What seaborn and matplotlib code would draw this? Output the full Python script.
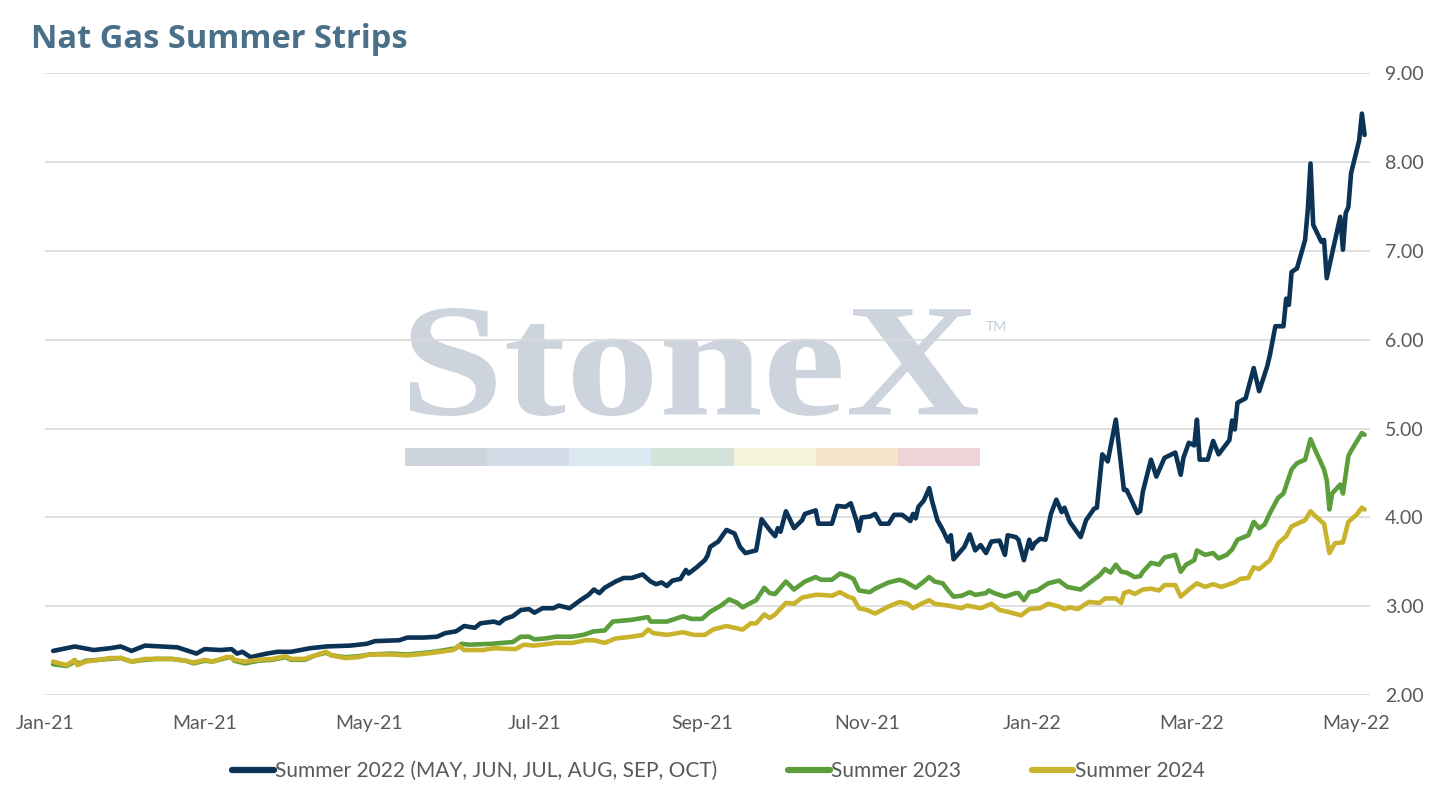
"""Nat Gas Summer Strips: three summer strip prices, Jan-21 to May-22."""

import matplotlib
matplotlib.use("Agg")
import matplotlib.pyplot as plt
import matplotlib.dates as mdates
from matplotlib.textpath import TextPath
from matplotlib.patches import PathPatch, Rectangle
from matplotlib.font_manager import FontProperties
from matplotlib.transforms import Affine2D
import pandas as pd
import seaborn as sns

W, H = 1437, 792

TITLE = "Nat Gas Summer Strips"
SERIES = ["Summer 2022 (MAY, JUN, JUL, AUG, SEP, OCT)", "Summer 2023", "Summer 2024"]
COLORS = ["#0B3356", "#5B9E3B", "#C9B32D"]
Y_TICKS = [2, 3, 4, 5, 6, 7, 8, 9]
X_TICKS = ["2021-01-01", "2021-03-01", "2021-05-01", "2021-07-01", "2021-09-01",
           "2021-11-01", "2022-01-01", "2022-03-01", "2022-05-01"]

S22_DATES = [
    "2021-01-04", "2021-01-12", "2021-01-19", "2021-01-25", "2021-01-29", "2021-02-02",
    "2021-02-07", "2021-02-13", "2021-02-19", "2021-02-26", "2021-03-01", "2021-03-07",
    "2021-03-11", "2021-03-13", "2021-03-15", "2021-03-18", "2021-03-24", "2021-03-28",
    "2021-04-02", "2021-04-09", "2021-04-15", "2021-04-24", "2021-04-30", "2021-05-03",
    "2021-05-12", "2021-05-15", "2021-05-21", "2021-05-26", "2021-05-29", "2021-06-02",
    "2021-06-05", "2021-06-09", "2021-06-11", "2021-06-16", "2021-06-18", "2021-06-20",
    "2021-06-23", "2021-06-26", "2021-06-29", "2021-07-01", "2021-07-04", "2021-07-08",
    "2021-07-10", "2021-07-14", "2021-07-18", "2021-07-21", "2021-07-23", "2021-07-25",
    "2021-07-27", "2021-07-31", "2021-08-03", "2021-08-06", "2021-08-10", "2021-08-13",
    "2021-08-15", "2021-08-17", "2021-08-19", "2021-08-21", "2021-08-24", "2021-08-26",
    "2021-08-27", "2021-08-30", "2021-09-02", "2021-09-03", "2021-09-04", "2021-09-07",
    "2021-09-10", "2021-09-13", "2021-09-15", "2021-09-17", "2021-09-21", "2021-09-23",
    "2021-09-26", "2021-09-28", "2021-09-29", "2021-09-30", "2021-10-02", "2021-10-05",
    "2021-10-08", "2021-10-09", "2021-10-13", "2021-10-14", "2021-10-19", "2021-10-21",
    "2021-10-24", "2021-10-26", "2021-10-28", "2021-10-29", "2021-10-30", "2021-11-02",
    "2021-11-04", "2021-11-06", "2021-11-09", "2021-11-11", "2021-11-14", "2021-11-17",
    "2021-11-18", "2021-11-19", "2021-11-20", "2021-11-22", "2021-11-24", "2021-11-25",
    "2021-11-27", "2021-11-29", "2021-12-01", "2021-12-02", "2021-12-03", "2021-12-05",
    "2021-12-07", "2021-12-09", "2021-12-11", "2021-12-13", "2021-12-15", "2021-12-17",
    "2021-12-20", "2021-12-22", "2021-12-23", "2021-12-26", "2021-12-27", "2021-12-29",
    "2021-12-31", "2022-01-01", "2022-01-02", "2022-01-04", "2022-01-06", "2022-01-08",
    "2022-01-10", "2022-01-12", "2022-01-13", "2022-01-15", "2022-01-19", "2022-01-21",
    "2022-01-24", "2022-01-25", "2022-01-27", "2022-01-29", "2022-02-01", "2022-02-04",
    "2022-02-05", "2022-02-09", "2022-02-10", "2022-02-11", "2022-02-14", "2022-02-16",
    "2022-02-19", "2022-02-23", "2022-02-25", "2022-02-26", "2022-02-28", "2022-03-02",
    "2022-03-03", "2022-03-04", "2022-03-07", "2022-03-09", "2022-03-11", "2022-03-15",
    "2022-03-16", "2022-03-17", "2022-03-18", "2022-03-21", "2022-03-24", "2022-03-26",
    "2022-03-29", "2022-03-30", "2022-04-01", "2022-04-04", "2022-04-05", "2022-04-06",
    "2022-04-07", "2022-04-09", "2022-04-12", "2022-04-13", "2022-04-14", "2022-04-15",
    "2022-04-18", "2022-04-19", "2022-04-20", "2022-04-22", "2022-04-25", "2022-04-26",
    "2022-04-27", "2022-04-28", "2022-04-29", "2022-05-02", "2022-05-03", "2022-05-04",
]
S22_VALUES = [
    2.50, 2.55, 2.51, 2.53, 2.55, 2.50, 2.56, 2.55, 2.54, 2.47, 2.52, 2.51,
    2.52, 2.47, 2.49, 2.43, 2.47, 2.49, 2.49, 2.53, 2.55, 2.56, 2.58, 2.61,
    2.62, 2.65, 2.65, 2.66, 2.70, 2.72, 2.78, 2.76, 2.81, 2.83, 2.81, 2.86,
    2.89, 2.96, 2.97, 2.93, 2.98, 2.98, 3.01, 2.98, 3.07, 3.13, 3.19, 3.15,
    3.21, 3.28, 3.32, 3.32, 3.36, 3.28, 3.25, 3.27, 3.23, 3.29, 3.31, 3.41,
    3.37, 3.44, 3.52, 3.57, 3.67, 3.73, 3.86, 3.82, 3.67, 3.60, 3.63, 3.98,
    3.86, 3.79, 3.88, 3.84, 4.07, 3.88, 3.97, 4.04, 4.08, 3.93, 3.93, 4.13,
    4.12, 4.16, 3.97, 3.85, 4.00, 4.01, 4.04, 3.93, 3.93, 4.03, 4.03, 3.96,
    4.04, 3.99, 4.12, 4.19, 4.33, 4.19, 3.97, 3.86, 3.73, 3.80, 3.53, 3.60,
    3.67, 3.81, 3.63, 3.69, 3.60, 3.73, 3.74, 3.58, 3.80, 3.78, 3.75, 3.52,
    3.75, 3.65, 3.71, 3.76, 3.75, 4.04, 4.20, 4.06, 4.11, 3.95, 3.78, 3.97,
    4.10, 4.11, 4.71, 4.63, 5.10, 4.31, 4.31, 4.05, 4.07, 4.29, 4.65, 4.46,
    4.67, 4.73, 4.48, 4.67, 4.84, 4.81, 5.10, 4.65, 4.65, 4.86, 4.71, 4.87,
    5.09, 4.99, 5.29, 5.34, 5.68, 5.42, 5.70, 5.83, 6.15, 6.15, 6.46, 6.39,
    6.76, 6.80, 7.12, 7.46, 7.98, 7.29, 7.10, 7.12, 6.69, 6.97, 7.38, 7.01,
    7.42, 7.49, 7.87, 8.24, 8.54, 8.30,
]

S23_DATES = [
    "2021-01-04", "2021-01-09", "2021-01-12", "2021-01-14", "2021-01-16", "2021-01-21",
    "2021-01-25", "2021-01-29", "2021-02-02", "2021-02-07", "2021-02-11", "2021-02-17",
    "2021-02-22", "2021-02-25", "2021-03-01", "2021-03-04", "2021-03-09", "2021-03-11",
    "2021-03-12", "2021-03-16", "2021-03-21", "2021-03-26", "2021-03-31", "2021-04-02",
    "2021-04-07", "2021-04-11", "2021-04-15", "2021-04-17", "2021-04-22", "2021-04-27",
    "2021-05-01", "2021-05-09", "2021-05-15", "2021-05-25", "2021-06-02", "2021-06-04",
    "2021-06-07", "2021-06-15", "2021-06-19", "2021-06-23", "2021-06-26", "2021-06-29",
    "2021-07-01", "2021-07-05", "2021-07-09", "2021-07-15", "2021-07-19", "2021-07-23",
    "2021-07-27", "2021-07-30", "2021-08-06", "2021-08-12", "2021-08-13", "2021-08-19",
    "2021-08-25", "2021-08-28", "2021-09-01", "2021-09-04", "2021-09-08", "2021-09-11",
    "2021-09-14", "2021-09-16", "2021-09-19", "2021-09-21", "2021-09-24", "2021-09-26",
    "2021-09-28", "2021-09-30", "2021-10-02", "2021-10-05", "2021-10-09", "2021-10-13",
    "2021-10-15", "2021-10-19", "2021-10-22", "2021-10-25", "2021-10-27", "2021-10-29",
    "2021-11-02", "2021-11-04", "2021-11-09", "2021-11-13", "2021-11-15", "2021-11-19",
    "2021-11-22", "2021-11-24", "2021-11-26", "2021-11-29", "2021-12-01", "2021-12-03",
    "2021-12-06", "2021-12-09", "2021-12-11", "2021-12-15", "2021-12-16", "2021-12-18",
    "2021-12-22", "2021-12-26", "2021-12-27", "2021-12-29", "2021-12-31", "2022-01-03",
    "2022-01-07", "2022-01-11", "2022-01-14", "2022-01-19", "2022-01-26", "2022-01-28",
    "2022-01-30", "2022-02-01", "2022-02-03", "2022-02-05", "2022-02-08", "2022-02-10",
    "2022-02-11", "2022-02-14", "2022-02-17", "2022-02-19", "2022-02-23", "2022-02-25",
    "2022-02-27", "2022-03-02", "2022-03-03", "2022-03-06", "2022-03-09", "2022-03-11",
    "2022-03-14", "2022-03-16", "2022-03-18", "2022-03-22", "2022-03-24", "2022-03-26",
    "2022-03-28", "2022-03-30", "2022-04-02", "2022-04-04", "2022-04-07", "2022-04-09",
    "2022-04-12", "2022-04-14", "2022-04-16", "2022-04-19", "2022-04-20", "2022-04-21",
    "2022-04-22", "2022-04-25", "2022-04-26", "2022-04-28", "2022-04-29", "2022-05-03",
    "2022-05-04",
]
S23_VALUES = [
    2.35, 2.33, 2.38, 2.36, 2.39, 2.40, 2.41, 2.42, 2.38, 2.40, 2.41, 2.41,
    2.39, 2.36, 2.39, 2.38, 2.42, 2.43, 2.39, 2.36, 2.39, 2.40, 2.43, 2.40,
    2.40, 2.45, 2.48, 2.45, 2.43, 2.44, 2.46, 2.47, 2.46, 2.49, 2.53, 2.58,
    2.57, 2.58, 2.59, 2.60, 2.66, 2.66, 2.63, 2.64, 2.66, 2.66, 2.68, 2.72,
    2.73, 2.83, 2.85, 2.88, 2.83, 2.83, 2.89, 2.86, 2.86, 2.94, 3.01, 3.08,
    3.04, 2.99, 3.04, 3.07, 3.21, 3.15, 3.14, 3.21, 3.28, 3.19, 3.28, 3.33,
    3.30, 3.30, 3.37, 3.34, 3.31, 3.18, 3.16, 3.20, 3.27, 3.30, 3.28, 3.21,
    3.28, 3.33, 3.28, 3.26, 3.18, 3.11, 3.12, 3.16, 3.13, 3.15, 3.18, 3.15,
    3.11, 3.15, 3.15, 3.07, 3.16, 3.18, 3.26, 3.29, 3.22, 3.19, 3.35, 3.42,
    3.38, 3.47, 3.39, 3.38, 3.33, 3.34, 3.39, 3.49, 3.47, 3.55, 3.58, 3.39,
    3.47, 3.52, 3.63, 3.58, 3.60, 3.54, 3.58, 3.64, 3.75, 3.80, 3.95, 3.88,
    3.92, 4.05, 4.22, 4.27, 4.54, 4.61, 4.65, 4.88, 4.74, 4.54, 4.42, 4.09,
    4.27, 4.37, 4.27, 4.69, 4.75, 4.95, 4.93,
]

S24_DATES = [
    "2021-01-04", "2021-01-09", "2021-01-12", "2021-01-13", "2021-01-16", "2021-01-21",
    "2021-01-25", "2021-01-29", "2021-02-02", "2021-02-07", "2021-02-11", "2021-02-17",
    "2021-02-22", "2021-02-25", "2021-03-01", "2021-03-04", "2021-03-09", "2021-03-11",
    "2021-03-12", "2021-03-16", "2021-03-21", "2021-03-26", "2021-03-31", "2021-04-02",
    "2021-04-07", "2021-04-11", "2021-04-15", "2021-04-17", "2021-04-22", "2021-04-27",
    "2021-05-01", "2021-05-09", "2021-05-15", "2021-05-22", "2021-06-01", "2021-06-03",
    "2021-06-05", "2021-06-12", "2021-06-16", "2021-06-24", "2021-06-27", "2021-07-01",
    "2021-07-09", "2021-07-15", "2021-07-20", "2021-07-23", "2021-07-27", "2021-07-31",
    "2021-08-06", "2021-08-10", "2021-08-12", "2021-08-14", "2021-08-19", "2021-08-25",
    "2021-08-29", "2021-09-02", "2021-09-05", "2021-09-10", "2021-09-16", "2021-09-19",
    "2021-09-21", "2021-09-24", "2021-09-26", "2021-09-28", "2021-10-02", "2021-10-05",
    "2021-10-08", "2021-10-13", "2021-10-15", "2021-10-19", "2021-10-22", "2021-10-25",
    "2021-10-27", "2021-10-29", "2021-11-01", "2021-11-04", "2021-11-09", "2021-11-13",
    "2021-11-16", "2021-11-18", "2021-11-21", "2021-11-24", "2021-11-26", "2021-12-01",
    "2021-12-06", "2021-12-08", "2021-12-13", "2021-12-17", "2021-12-20", "2021-12-23",
    "2021-12-28", "2021-12-31", "2022-01-04", "2022-01-07", "2022-01-11", "2022-01-13",
    "2022-01-15", "2022-01-18", "2022-01-22", "2022-01-26", "2022-01-28", "2022-02-01",
    "2022-02-03", "2022-02-04", "2022-02-06", "2022-02-08", "2022-02-11", "2022-02-14",
    "2022-02-17", "2022-02-19", "2022-02-23", "2022-02-25", "2022-02-28", "2022-03-03",
    "2022-03-06", "2022-03-09", "2022-03-12", "2022-03-15", "2022-03-17", "2022-03-19",
    "2022-03-22", "2022-03-24", "2022-03-26", "2022-03-30", "2022-04-02", "2022-04-05",
    "2022-04-07", "2022-04-12", "2022-04-14", "2022-04-16", "2022-04-19", "2022-04-21",
    "2022-04-23", "2022-04-26", "2022-04-28", "2022-05-01", "2022-05-03", "2022-05-04",
]
S24_VALUES = [
    2.38, 2.34, 2.40, 2.34, 2.38, 2.40, 2.42, 2.42, 2.38, 2.41, 2.41, 2.41,
    2.39, 2.37, 2.40, 2.38, 2.43, 2.43, 2.40, 2.38, 2.40, 2.41, 2.44, 2.41,
    2.41, 2.45, 2.49, 2.45, 2.42, 2.43, 2.46, 2.46, 2.45, 2.47, 2.51, 2.56,
    2.51, 2.51, 2.53, 2.52, 2.57, 2.56, 2.59, 2.59, 2.62, 2.62, 2.59, 2.64,
    2.66, 2.68, 2.74, 2.70, 2.68, 2.71, 2.68, 2.68, 2.74, 2.78, 2.74, 2.81,
    2.81, 2.91, 2.87, 2.91, 3.04, 3.03, 3.10, 3.13, 3.13, 3.12, 3.16, 3.11,
    3.09, 2.98, 2.96, 2.92, 3.00, 3.05, 3.03, 2.98, 3.03, 3.07, 3.03, 3.01,
    2.98, 3.01, 2.98, 3.03, 2.96, 2.94, 2.90, 2.97, 2.98, 3.03, 3.00, 2.97,
    2.99, 2.97, 3.05, 3.04, 3.09, 3.09, 3.04, 3.15, 3.17, 3.14, 3.19, 3.20,
    3.18, 3.24, 3.24, 3.11, 3.19, 3.26, 3.22, 3.25, 3.22, 3.25, 3.27, 3.31,
    3.32, 3.44, 3.42, 3.52, 3.71, 3.79, 3.90, 3.97, 4.07, 4.01, 3.93, 3.60,
    3.71, 3.72, 3.95, 4.03, 4.11, 4.09,
]

BAR_COLORS = ["#CDD4DE", "#D3DCE6", "#DDE9F1", "#D4E3D9", "#F5F3D9", "#F7E4CC", "#F0D3D7"]


def px_box(x0, y0, x1, y1):
    """Image-pixel box (top-left origin) -> figure fraction rect."""
    return x0 / W, 1 - y1 / H, (x1 - x0) / W, (y1 - y0) / H


def add_watermark(fig):
    tp = TextPath((0, 0), "StoneX", size=1,
                  prop=FontProperties(family="Liberation Serif", weight="bold"))
    ext = tp.get_extents()
    fx, fy, fw, fh = px_box(410, 308, 978, 416)
    tr = (Affine2D().translate(-ext.x0, -ext.y0)
          .scale(fw / ext.width, fh / ext.height)
          .translate(fx, fy) + fig.transFigure)
    fig.add_artist(PathPatch(tp, transform=tr, fc="#CDD4DE", ec="none", zorder=-5))
    fig.text(986 / W, 1 - 331 / H, "TM", fontsize=10, color="#C5CCD6", zorder=-5)
    seg = (980 - 405) / len(BAR_COLORS)
    for i, c in enumerate(BAR_COLORS):
        fx, fy, fw, fh = px_box(405 + i * seg, 448, 405 + (i + 1) * seg, 466)
        fig.add_artist(Rectangle((fx, fy), fw, fh, transform=fig.transFigure,
                                 fc=c, ec="none", zorder=-5))


def main():
    sns.set_theme(style="white")
    plt.rcParams["font.family"] = ["Lato", "DejaVu Sans"]

    frames = []
    for name, dates, vals in zip(SERIES, [S22_DATES, S23_DATES, S24_DATES],
                                 [S22_VALUES, S23_VALUES, S24_VALUES]):
        frames.append(pd.DataFrame({"date": pd.to_datetime(dates), "price": vals,
                                    "series": name}))
    df = pd.concat(frames, ignore_index=True)

    fig = plt.figure(figsize=(W / 100, H / 100), dpi=100)
    ax = fig.add_axes(px_box(45, 72.7, 1370, 695.4))
    ax.set_facecolor("none")
    add_watermark(fig)

    sns.lineplot(data=df, x="date", y="price", hue="series", hue_order=SERIES,
                 palette=dict(zip(SERIES, COLORS)), lw=3.3, estimator=None, ax=ax)

    ax.set_xlim(pd.Timestamp("2021-01-01"), pd.Timestamp("2022-05-06"))
    ax.set_ylim(2, 9)
    ax.set_yticks(Y_TICKS)
    ax.set_yticklabels([f"{v:.2f}" for v in Y_TICKS])
    ax.set_xticks(pd.to_datetime(X_TICKS))
    ax.xaxis.set_major_formatter(mdates.DateFormatter("%b-%y"))
    ax.yaxis.tick_right()
    ax.tick_params(axis="y", length=0, pad=11, labelsize=14, labelcolor="#595959")
    ax.tick_params(axis="x", length=0, pad=14, labelsize=14, labelcolor="#595959")
    ax.grid(axis="y", color="#D9D9D9", lw=1.2)
    ax.set_axisbelow(True)
    for s in ax.spines.values():
        s.set_visible(False)
    ax.set_xlabel("")
    ax.set_ylabel("")

    handles, labels = ax.get_legend_handles_labels()
    ax.get_legend().remove()
    leg = fig.legend(handles, labels, loc="center", bbox_to_anchor=(0.5, 1 - 771 / H),
                     ncol=3, frameon=False, fontsize=15, handlelength=2.0,
                     handletextpad=0.05, columnspacing=3.4)
    for line in leg.get_lines():
        line.set_linewidth(4.5)
    for t in leg.get_texts():
        t.set_color("#595959")

    fig.text(31 / W, 1 - 48 / H, TITLE, fontsize=23.5, fontweight="bold",
             family=["Open Sans", "DejaVu Sans"], color="#4A7089", va="baseline")

    fig.savefig("out.png", dpi=100)


if __name__ == "__main__":
    main()
